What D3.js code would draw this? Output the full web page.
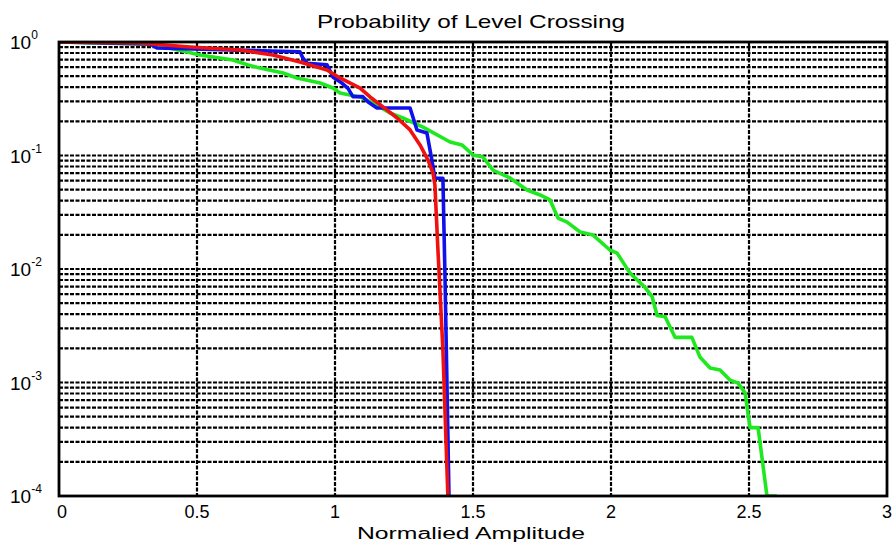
<!DOCTYPE html>
<html>
<head>
<meta charset="utf-8">
<script src="https://cdn.jsdelivr.net/npm/d3@7"></script>
<style>
  body { margin: 0; background: #fff; }
  text { font-family: "Liberation Sans", Arial, sans-serif; fill: #000; }
</style>
</head>
<body>
<div id="chart"></div>
<script>
// curve values (amplitude, probability of crossing)
var greenAmp = [0, 0.341, 0.464, 0.511, 0.630, 0.685, 0.728, 0.812, 0.862, 0.946, 0.993, 1.018, 1.091, 1.138, 1.199, 1.246, 1.319, 1.417, 1.460, 1.500, 1.536, 1.572, 1.634, 1.696, 1.743, 1.779, 1.808, 1.841, 1.888, 1.935, 1.996, 2.022, 2.069, 2.123, 2.149, 2.167, 2.196, 2.232, 2.293, 2.322, 2.359, 2.395, 2.431, 2.460, 2.486, 2.496, 2.504, 2.533, 2.565, 2.601];
var greenProb = [1.0, 0.95, 0.817, 0.768, 0.694, 0.627, 0.590, 0.533, 0.482, 0.435, 0.393, 0.355, 0.328, 0.290, 0.237, 0.214, 0.178, 0.1315, 0.124, 0.101, 0.097, 0.0745, 0.0634, 0.0497, 0.0449, 0.0406, 0.0281, 0.0259, 0.0212, 0.0199, 0.0147, 0.0138, 0.0092, 0.0069, 0.0057, 0.0039, 0.0038, 0.0025, 0.0025, 0.00168, 0.00134, 0.00129, 0.00105, 0.00099, 0.00081, 0.00054, 0.0004, 0.0004, 0.0001, 0.0001];

var blueAmp = [0, 0.33, 0.355, 0.873, 0.884, 0.899, 0.971, 0.993, 1.025, 1.047, 1.065, 1.101, 1.12, 1.152, 1.272, 1.297, 1.333, 1.351, 1.362, 1.391, 1.399, 1.413];
var blueProb = [1.0, 0.96, 0.885, 0.82, 0.72, 0.65, 0.63, 0.49, 0.435, 0.39, 0.33, 0.33, 0.296, 0.262, 0.262, 0.168, 0.158, 0.091, 0.063, 0.063, 0.0075, 0.0001];

var redAmp = [0, 0.293, 0.475, 0.656, 0.775, 0.873, 0.971, 1.018, 1.091, 1.127, 1.174, 1.225, 1.272, 1.308, 1.337, 1.355, 1.362, 1.373, 1.391, 1.409];
var redProb = [1.0, 0.98, 0.904, 0.85, 0.768, 0.667, 0.567, 0.482, 0.393, 0.328, 0.268, 0.214, 0.168, 0.124, 0.0911, 0.0701, 0.055, 0.0147, 0.00193, 0.0001];

var xTicks = [0, 0.5, 1, 1.5, 2, 2.5, 3];
var xTickLabels = ["0", "0.5", "1", "1.5", "2", "2.5", "3"];
var yDecades = [0, -1, -2, -3, -4];

var width = 895, height = 543;
var margin = {top: 42, right: 8, bottom: 47, left: 59};

var svg = d3.select("#chart").append("svg")
    .attr("width", width)
    .attr("height", height);

var x = d3.scaleLinear().domain([0, 3]).range([margin.left, width - margin.right]);
var y = d3.scaleLog().domain([1e-4, 1]).range([height - margin.bottom, margin.top]);

svg.append("clipPath").attr("id", "plotclip")
  .append("rect")
    .attr("x", margin.left).attr("y", margin.top)
    .attr("width", x(3) - x(0)).attr("height", y(1e-4) - y(1));

// grid: every 1..9 x 10^k horizontally, every 0.5 vertically
var yGrid = [];
yDecades.forEach(function(e) {
    if (e === -4) { yGrid.push(1e-4); return; }
    for (var m = 1; m <= 9; m++) yGrid.push(m * Math.pow(10, e - 1));
});
yGrid = yGrid.filter(function(v) { return v > 1e-4 && v < 1; });

var grid = svg.append("g")
    .attr("stroke", "#000")
    .attr("stroke-width", 2.2)
    .attr("stroke-dasharray", "4,1.5");

grid.selectAll("line.h")
  .data(yGrid)
  .join("line")
    .attr("class", "h")
    .attr("x1", x(0)).attr("x2", x(3))
    .attr("y1", d => y(d)).attr("y2", d => y(d));

grid.selectAll("line.v")
  .data(xTicks.slice(1, -1))
  .join("line")
    .attr("class", "v")
    .attr("y1", y(1)).attr("y2", y(1e-4))
    .attr("x1", d => x(d)).attr("x2", d => x(d));

// curves
var line = d3.line()
    .x(d => x(d[0]))
    .y(d => y(d[1]));

var series = [
    {amp: greenAmp, prob: greenProb, color: "#1ee81e"},
    {amp: blueAmp, prob: blueProb, color: "#1010ee"},
    {amp: redAmp, prob: redProb, color: "#f01010"}
];

svg.append("g")
    .attr("clip-path", "url(#plotclip)")
  .selectAll("path")
  .data(series)
  .join("path")
    .attr("fill", "none")
    .attr("stroke", d => d.color)
    .attr("stroke-width", 3.6)
    .attr("stroke-linejoin", "round")
    .attr("d", d => line(d.amp.map((a, i) => [a, d.prob[i]])));

// frame
svg.append("rect")
    .attr("x", x(0)).attr("y", y(1))
    .attr("width", x(3) - x(0)).attr("height", y(1e-4) - y(1))
    .attr("fill", "none")
    .attr("stroke", "#000")
    .attr("stroke-width", 2.8);

// x tick labels
svg.append("g").selectAll("text")
  .data(xTicks)
  .join("text")
    .attr("x", d => x(d) + (d === 0 ? 3 : 0))
    .attr("y", 518)
    .attr("text-anchor", "middle")
    .attr("font-size", 18)
    .text((d, i) => xTickLabels[i]);

// y tick labels as 10^k
var yl = svg.append("g").selectAll("text")
  .data(yDecades)
  .join("text")
    .attr("x", 10)
    .attr("y", d => Math.min(y(Math.pow(10, d)) + 7, 503))
    .attr("font-size", 19);
yl.append("tspan").text("10");
yl.append("tspan")
    .attr("dy", -10)
    .attr("font-size", 12)
    .text(d => d === 0 ? "0" : String(d));

// title and axis label
svg.append("text")
    .attr("x", 471).attr("y", 28)
    .attr("text-anchor", "middle")
    .attr("font-size", 19)
    .attr("textLength", 308)
    .attr("lengthAdjust", "spacingAndGlyphs")
    .text("Probability of Level Crossing");

svg.append("text")
    .attr("x", 471).attr("y", 539)
    .attr("text-anchor", "middle")
    .attr("font-size", 16)
    .attr("textLength", 228)
    .attr("lengthAdjust", "spacingAndGlyphs")
    .text("Normalied Amplitude");
</script>
</body>
</html>
